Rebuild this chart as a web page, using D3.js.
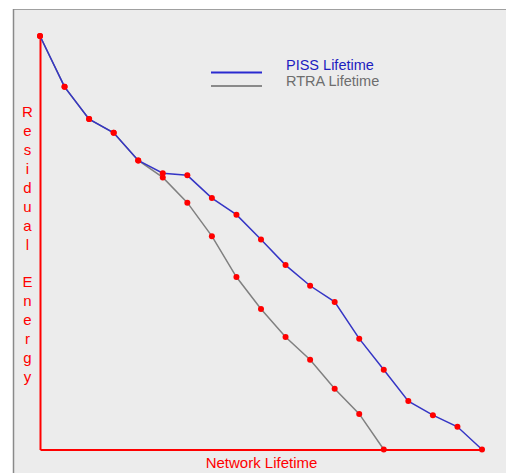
<!DOCTYPE html>
<html>
<head>
<meta charset="utf-8">
<script src="https://cdn.jsdelivr.net/npm/d3@7"></script>
<style>
  html, body { margin: 0; padding: 0; background: #ffffff; }
  svg { display: block; }
</style>
</head>
<body>
<svg id="chart" width="506" height="473"></svg>
<script>
// ---- Data ----
const steps = d3.range(0, 19); // x-axis positions (no tick labels shown)
const pissLifetime = [100, 87.7, 79.9, 76.6, 69.9, 66.8, 66.3, 60.8, 56.8, 50.8,
                      44.6, 39.6, 35.7, 26.8, 19.3, 11.7, 8.3, 5.5, 0];
const rtraLifetime = [100, 87.7, 79.9, 76.6, 69.9, 65.8, 59.7, 51.6, 41.7, 34.0,
                      27.2, 21.7, 14.7, 8.6, 0];
const seriesNames = ["PISS Lifetime", "RTRA Lifetime"];
const xTitle = "Network Lifetime";
const yTitle = "Residual Energy";

// ---- Layout ----
const svg = d3.select("#chart");
const W = 506, H = 473;

// panel background
svg.append("rect").attr("x", 13).attr("y", 9).attr("width", W - 13).attr("height", H - 9)
  .attr("fill", "#ececec");
svg.append("line").attr("x1", 13).attr("x2", W).attr("y1", 9.5).attr("y2", 9.5)
  .attr("stroke", "#a0a0a0").attr("stroke-width", 1);
svg.append("line").attr("x1", 13.5).attr("x2", 13.5).attr("y1", 9).attr("y2", H)
  .attr("stroke", "#8a8a8a").attr("stroke-width", 1.5);

const x = d3.scaleLinear().domain([0, 18]).range([40, 482]);
const y = d3.scaleLinear().domain([0, 100]).range([449.5, 36]);

// axes (red lines, no ticks)
const xAxis = d3.axisBottom(x).tickValues([]).tickSizeOuter(0);
const yAxis = d3.axisLeft(y).tickValues([]).tickSizeOuter(0);
const gx = svg.append("g").attr("transform", `translate(0,${y(0)})`).call(xAxis);
gx.select(".domain").attr("stroke", "#ff0000").attr("stroke-width", 2);
const gy = svg.append("g").attr("transform", `translate(${x(0)},0)`).call(yAxis);
gy.select(".domain").attr("stroke", "#ff0000").attr("stroke-width", 2);

// lines
const line = d3.line().x((d, i) => x(steps[i])).y(d => y(d));
svg.append("path").datum(rtraLifetime).attr("d", line)
  .attr("fill", "none").attr("stroke", "#808080").attr("stroke-width", 1.5);
svg.append("path").datum(pissLifetime).attr("d", line)
  .attr("fill", "none").attr("stroke", "#3535c5").attr("stroke-width", 1.5);

// points
svg.append("g").selectAll("circle").data(rtraLifetime).join("circle")
  .attr("cx", (d, i) => x(steps[i])).attr("cy", d => y(d)).attr("r", 3)
  .attr("fill", "#ff0000");
svg.append("g").selectAll("circle").data(pissLifetime).join("circle")
  .attr("cx", (d, i) => x(steps[i])).attr("cy", d => y(d)).attr("r", 3)
  .attr("fill", "#ff0000");

// legend
const legendColors = ["#2a2ad0", "#8a8a8a"];
const legendText = ["#1c1cc0", "#6e6e6e"];
const legendLineY = [72.5, 86];
const legendTextY = [69.5, 86];
seriesNames.forEach((name, i) => {
  svg.append("line").attr("x1", 211).attr("x2", 262)
    .attr("y1", legendLineY[i]).attr("y2", legendLineY[i])
    .attr("stroke", legendColors[i]).attr("stroke-width", 2);
  svg.append("text").attr("x", 286).attr("y", legendTextY[i])
    .attr("font-family", "Liberation Sans, Arial, sans-serif").attr("font-size", 14.5)
    .attr("fill", legendText[i]).text(name);
});

// x title
svg.append("text").attr("x", 261.5).attr("y", 468).attr("text-anchor", "middle")
  .attr("font-family", "Liberation Sans, Arial, sans-serif").attr("font-size", 15)
  .attr("fill", "#ff0000").text(xTitle);

// y title: stacked letters
const yt = svg.append("text").attr("font-family", "Liberation Sans, Arial, sans-serif")
  .attr("font-size", 15).attr("fill", "#ff0000").attr("text-anchor", "middle");
yTitle.split("").forEach((ch, i) => {
  yt.append("tspan").attr("x", 27.5).attr("y", 117 + i * 18.93).text(ch === " " ? "\u00a0" : ch);
});
</script>
</body>
</html>
